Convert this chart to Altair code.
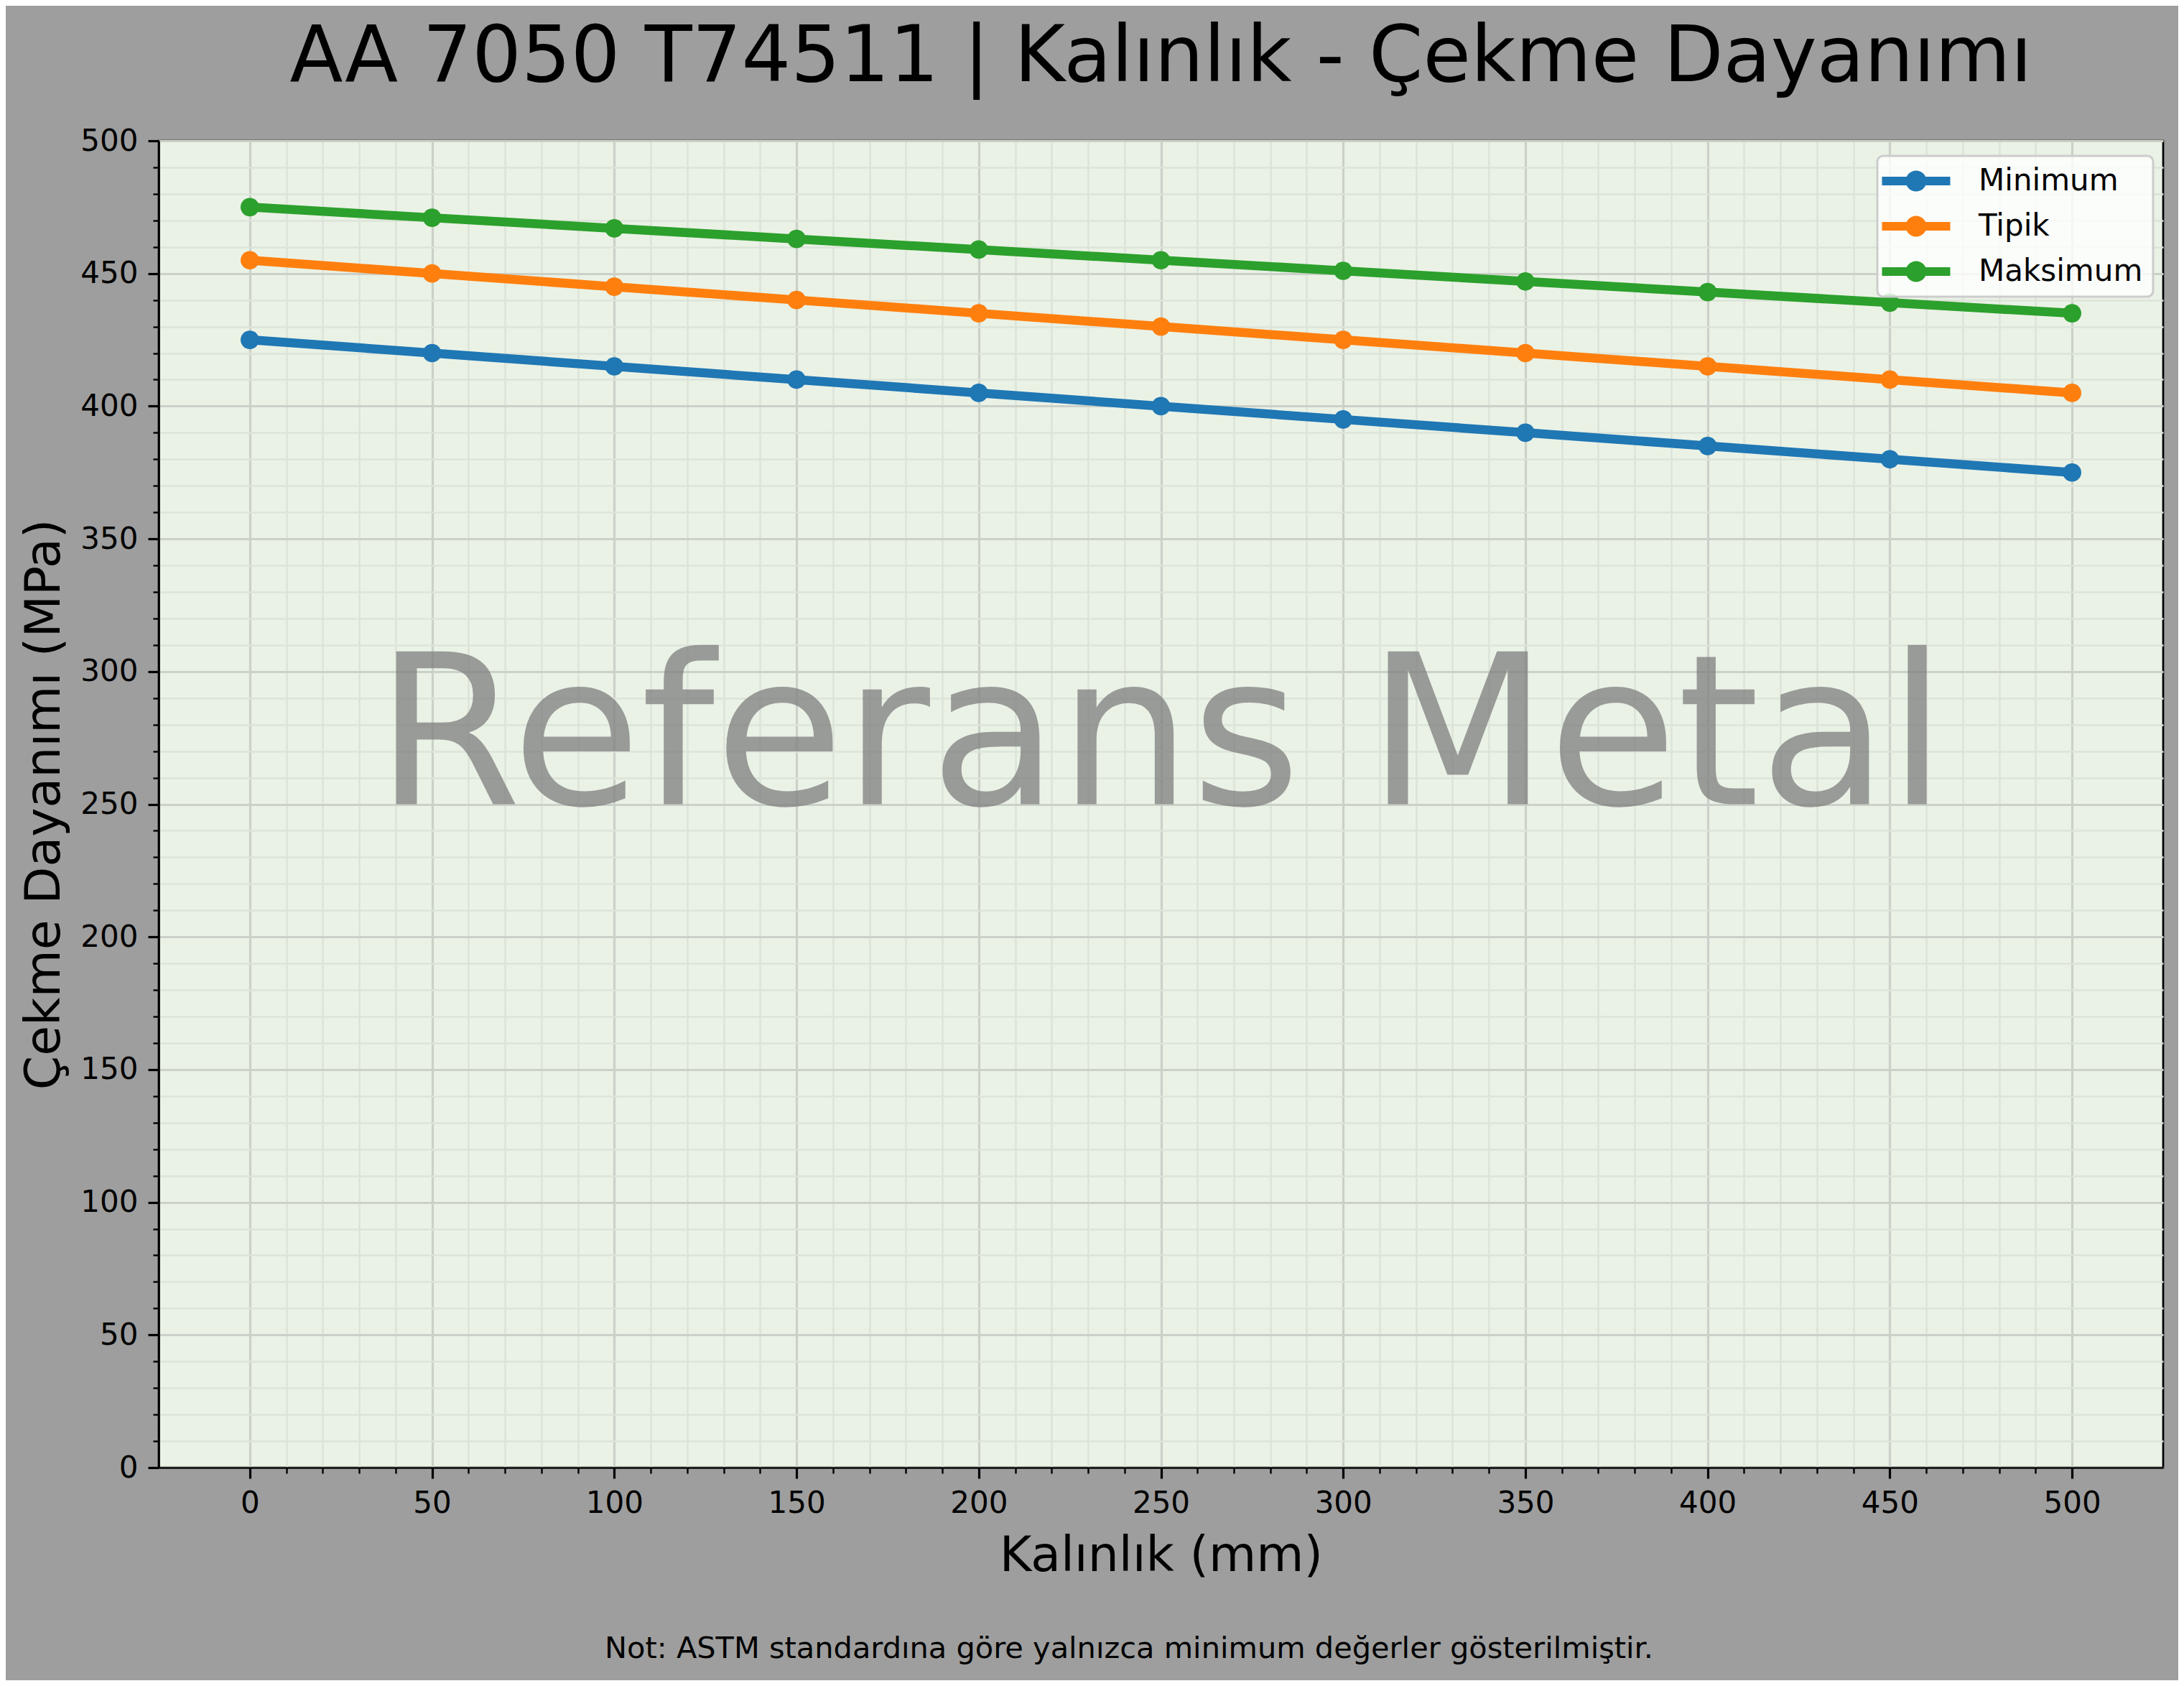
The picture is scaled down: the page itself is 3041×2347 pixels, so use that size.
import altair as alt
import pandas as pd

# values
thickness = [0, 50, 100, 150, 200, 250, 300, 350, 400, 450, 500]
minimum = [425, 420, 415, 410, 405, 400, 395, 390, 385, 380, 375]
tipik = [455, 450, 445, 440, 435, 430, 425, 420, 415, 410, 405]
maksimum = [475, 471, 467, 463, 459, 455, 451, 447, 443, 439, 435]

series_names = ["Minimum", "Tipik", "Maksimum"]
series_colors = ["#1f77b4", "#ff7f0e", "#2ca02c"]

# ticks every 10, labels only every 50
x_ticks = list(range(0, 501, 10))
y_ticks = list(range(0, 501, 10))

title_text = "AA 7050 T74511 | Kalınlık - Çekme Dayanımı"
x_title = "Kalınlık (mm)"
y_title = "Çekme Dayanımı (MPa)"
note_text = "Not: ASTM standardına göre yalnızca minimum değerler gösterilmiştir."
watermark_text = "Referans Metal"

FONT = "DejaVu Sans"
W, H = 2791, 1847

rows = []
for name, values in zip(series_names, [minimum, tipik, maksimum]):
    for t, v in zip(thickness, values):
        rows.append({"kalinlik": t, "dayanim": v, "seri": name})
df = pd.DataFrame(rows)

major = "datum.value % 50 === 0"


def make_axis(values, **kw):
    return alt.Axis(
        values=values,
        labelExpr=f"{major} ? datum.label : ''",
        tickSize={"condition": {"test": major, "value": 15}, "value": 8},
        tickWidth={"condition": {"test": major, "value": 3.2}, "value": 2.4},
        tickColor="black",
        gridColor={"condition": {"test": major, "value": "#cbd0c8"}, "value": "#dce3d9"},
        gridWidth={"condition": {"test": major, "value": 3.2}, "value": 2.6},
        domainColor="black",
        domainWidth=2.7,
        labelFont=FONT,
        labelFontSize=42,
        labelColor="black",
        labelPadding=14,
        titleFont=FONT,
        titleFontSize=68,
        titleFontWeight="normal",
        titleColor="black",
        titleBaseline="alphabetic",
        **kw,
    )


x_enc = alt.X("kalinlik:Q", title=x_title,
              scale=alt.Scale(domain=[-25, 525], nice=False, zero=False),
              axis=make_axis(x_ticks, titleY=143))
y_enc = alt.Y("dayanim:Q", title=y_title,
              scale=alt.Scale(domain=[0, 500], nice=False),
              axis=make_axis(y_ticks, titleX=-139))

color_scale = alt.Scale(domain=series_names, range=series_colors)

legend_symbol = ("M-2.375,-0.3H2.375V0.3H-2.375Z "
                 "M-0.725,0A0.725,0.725 0 1,1 0.725,0A0.725,0.725 0 1,1 -0.725,0Z")
legend = alt.Legend(
    title=None, orient="none", legendX=2393, legendY=21,
    symbolType=legend_symbol, symbolSize=1600, symbolStrokeWidth=0,
    symbolOffset=19, symbolOpacity=1, labelOffset=66,
    labelFont=FONT, labelFontSize=42, labelColor="black", labelLimit=400,
    padding=14, rowPadding=21,
    fillColor="rgba(255,255,255,0.8)", strokeColor="#cccccc", cornerRadius=8,
)

watermark = alt.Chart(pd.DataFrame({"kalinlik": [250], "dayanim": [250], "t": [watermark_text]})).mark_text(
    font=FONT, fontSize=292, color="#808080", opacity=0.76,
    align="center", baseline="alphabetic"
).encode(x=x_enc, y=y_enc, text="t:N")

lines = alt.Chart(df).mark_line(strokeWidth=12.5).encode(
    x=x_enc, y=y_enc,
    color=alt.Color("seri:N", scale=color_scale, legend=legend),
    detail="seri:N",
)

points = alt.Chart(df).mark_circle(size=660, opacity=1).encode(
    x=x_enc, y=y_enc,
    color=alt.Color("seri:N", scale=color_scale, legend=legend),
)

title = alt.Chart(pd.DataFrame({"t": [title_text]})).mark_text(
    font=FONT, fontSize=108, color="black", align="center", baseline="alphabetic"
).encode(x=alt.value(W / 2), y=alt.value(-83), text="t:N")

note = alt.Chart(pd.DataFrame({"note": [note_text]})).mark_text(
    font=FONT, fontSize=41.5, color="black", align="left", baseline="alphabetic"
).encode(x=alt.value(621), y=alt.value(2112), text="note:N")

chart = alt.layer(watermark, lines, points, title, note).properties(
    width=W,
    height=H,
    autosize=alt.AutoSizeParams(type="none"),
    padding={"left": 213, "top": 188, "right": 21, "bottom": 296},
    background="#9e9e9e",
).configure_view(
    fill="#eaf2e6", stroke="black", strokeWidth=2.7
).configure_legend(
    strokeWidth=3
)

chart.save("out.html", embed_options={"renderer": "svg", "actions": False})
